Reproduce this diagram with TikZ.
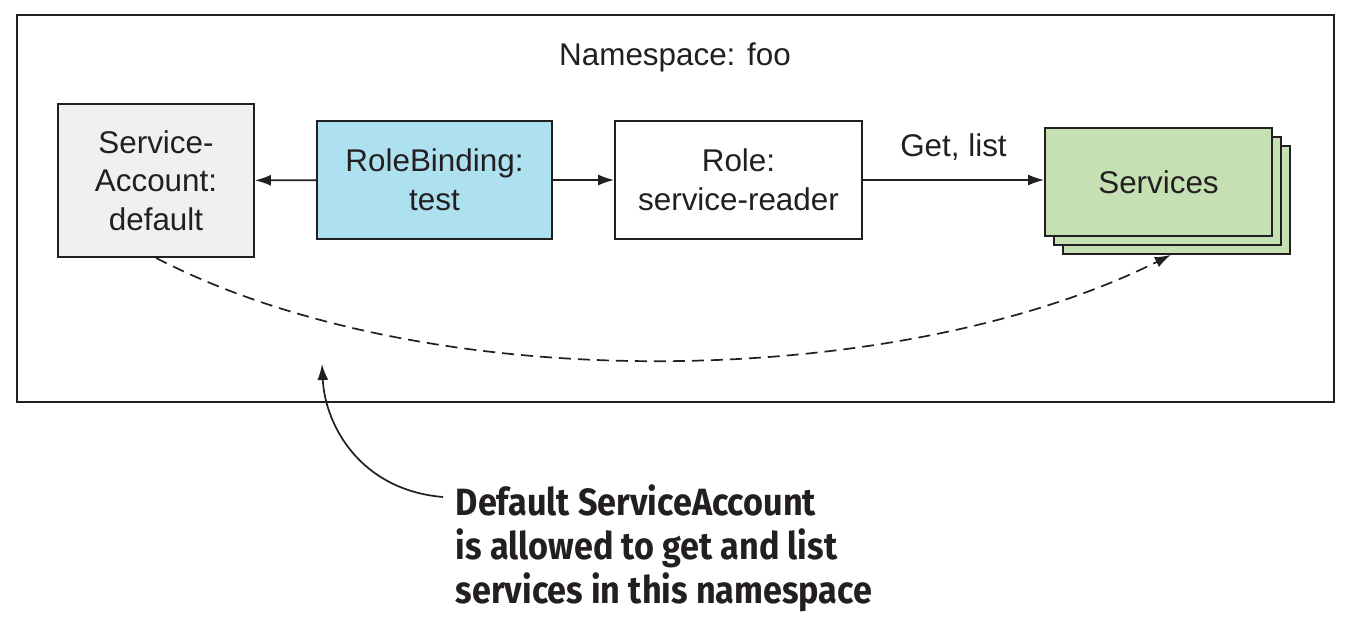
\documentclass[tikz,border=0pt]{standalone}
\usepackage{fontspec}
\setmainfont{Liberation Sans}
\newfontfamily\notefont[FakeStretch=0.9]{Fira Sans}
\usetikzlibrary{arrows.meta}
\definecolor{edge_dark}{RGB}{35,31,32}
\definecolor{node_gray}{RGB}{240,240,240}
\definecolor{node_blue}{RGB}{174,225,239}
\definecolor{node_green}{RGB}{197,224,179}

\begin{document}
\begin{tikzpicture}[x=0.5pt,y=-0.5pt,-{Latex[length=8pt,width=5.5pt]},line width=0.85pt,color=edge_dark]
    \tikzstyle{box}=[draw=edge_dark, line width=0.9pt, rectangle, align=center, text=edge_dark,
                     font=\fontsize{15.7}{19.3}\selectfont, inner sep=0pt]
    \tikzstyle{sa}=[style=box, fill=node_gray, minimum width=98pt, minimum height=76.5pt]
    \tikzstyle{rb}=[style=box, fill=node_blue, minimum width=117.5pt, minimum height=59pt]
    \tikzstyle{ro}=[style=box, fill=white, minimum width=123.5pt, minimum height=59pt]
    \tikzstyle{sv}=[style=box, fill=node_green, minimum width=113.5pt, minimum height=54pt]

    \useasboundingbox (0,0) rectangle (1355,620);
    \draw[-, line width=0.9pt] (17,15) rectangle (1334,402);
    \node[text=edge_dark, font=\fontsize{15.7}{19.3}\selectfont] (ns) at (675,57) {Namespace: foo};

    \node[sa] (acct) at (156,180.5)  {Service-\\Account:\\default};
    \node[rb] (bind) at (434.5,180)  {RoleBinding:\\test};
    \node[ro] (role) at (738.5,180)  {Role:\\service-reader};
    \node[sv] (svc3) at (1176.5,200) {};
    \node[sv] (svc2) at (1167.5,191) {};
    \node[sv] (svc)  at (1158.5,182) {Services};

    \path
     (bind) edge (acct)
     (bind) edge (role)
     (role.east) edge node[above=6pt, text=edge_dark, font=\fontsize{15.7}{19.3}\selectfont] (perm) {Get, list} (role.east -| svc.west)
     ;
    \draw[dash pattern=on 6pt off 3.5pt] (acct.south) .. controls (430,400) and (900,390) .. ([xshift=-60pt]svc3.south east);

    \node[anchor=north west, inner sep=0pt, align=left, text=edge_dark,
          font=\notefont\bfseries\fontsize{19}{22}\selectfont] (note) at (455,484)
          {Default ServiceAccount\\is allowed to get and list\\services in this namespace};
    \coordinate (tip) at (322,364);
    \draw ([shift={(-12,13)}]note.north west) .. controls (360,490) and (325,425) .. (tip);
\end{tikzpicture}
\end{document}
